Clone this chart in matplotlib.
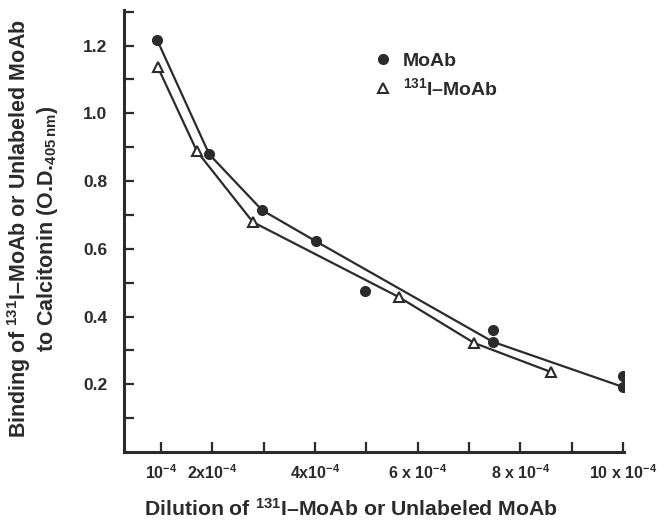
import matplotlib
matplotlib.use("Agg")
import matplotlib.pyplot as plt

plt.rcParams['font.family'] = ['Liberation Sans', 'DejaVu Sans']
plt.rcParams['mathtext.fontset'] = 'custom'
plt.rcParams['mathtext.rm'] = 'Liberation Sans:bold'
plt.rcParams['mathtext.it'] = 'Liberation Sans:bold'
plt.rcParams['mathtext.bf'] = 'Liberation Sans:bold'

# Data (dilution in units of 1e-4, binding O.D. 405nm)
moab_x = [0.93, 1.94, 2.97, 4.02, 4.98, 7.47, 7.47, 10.0, 10.0]
moab_y = [1.215, 0.879, 0.714, 0.622, 0.475, 0.360, 0.325, 0.224, 0.192]
moab_curve_x = [0.93, 1.94, 2.97, 4.02, 7.47, 10.0]
moab_curve_y = [1.215, 0.879, 0.714, 0.622, 0.325, 0.192]

i131_x = [0.94, 1.70, 2.79, 5.64, 7.10, 8.60]
i131_y = [1.136, 0.888, 0.679, 0.457, 0.322, 0.236]

xtick_pos = [1, 2, 3, 4, 5, 6, 7, 8, 9, 10]
xtick_labels = [r'10$^{-4}$', r'2x10$^{-4}$', '', r'4x10$^{-4}$', '',
                r'6 x 10$^{-4}$', '', r'8 x 10$^{-4}$', '', r'10 x 10$^{-4}$']
ytick_pos = [0.1, 0.2, 0.3, 0.4, 0.5, 0.6, 0.7, 0.8, 0.9, 1.0, 1.1, 1.2, 1.3]
ytick_labels = ['', '0.2', '', '0.4', '', '0.6', '', '0.8', '', '1.0', '', '1.2', '']

C = '#2b2b2b'

fig = plt.figure(figsize=(6.72, 5.25), dpi=100)
ax = fig.add_axes([124/672, 73/525, 500/672, 442/525])

ax.plot(moab_curve_x, moab_curve_y, color=C, lw=1.6, zorder=2)
ax.plot(i131_x, i131_y, color=C, lw=1.6, zorder=2)
ax.plot(moab_x, moab_y, ls='none', marker='o', ms=7, color=C, label='MoAb', zorder=3)
ax.plot(i131_x, i131_y, ls='none', marker='^', ms=7, mfc='white', mec=C, mew=1.5,
        label=r'$^{131}$I–MoAb', zorder=3)

ax.set_xlim(0.28, 10.02)
ax.set_ylim(0, 1.305)

for s in ['top', 'right']:
    ax.spines[s].set_visible(False)
for s in ['left', 'bottom']:
    ax.spines[s].set_linewidth(2.2)
    ax.spines[s].set_color(C)

ax.set_xticks(xtick_pos)
ax.set_xticklabels(xtick_labels, fontsize=11.5, fontweight='bold', color=C)
ax.set_yticks(ytick_pos)
ax.set_yticklabels(ytick_labels, fontsize=12.5, fontweight='bold', color=C)
ax.tick_params(axis='both', direction='in', length=7, width=1.6, color=C)
ax.tick_params(axis='y', pad=12)
ax.tick_params(axis='x', pad=8)

ax.set_xlabel(r'Dilution of $^{131}$I–MoAb or Unlabeled MoAb', fontsize=15.3,
              fontweight='bold', color=C)
ax.xaxis.set_label_coords(0.454, -46/442)
ax.set_ylabel('Binding of $^{131}$I–MoAb or Unlabeled MoAb\n'
              r'to Calcitonin (O.D.$_{405\,\mathrm{nm}}$)', fontsize=15.5,
              fontweight='bold', color=C, linespacing=1.1)
ax.yaxis.set_label_coords(-64/500, 0.505)

leg = ax.legend(loc='upper left', bbox_to_anchor=(374/672, 1 - 52/525),
                bbox_transform=fig.transFigure, frameon=False,
                prop={'size': 14, 'weight': 'bold'},
                handlelength=0.95, handletextpad=0.55, borderpad=0, borderaxespad=0,
                labelspacing=0.38)
for t in leg.get_texts():
    t.set_color(C)

fig.savefig('out.png', dpi=100)
